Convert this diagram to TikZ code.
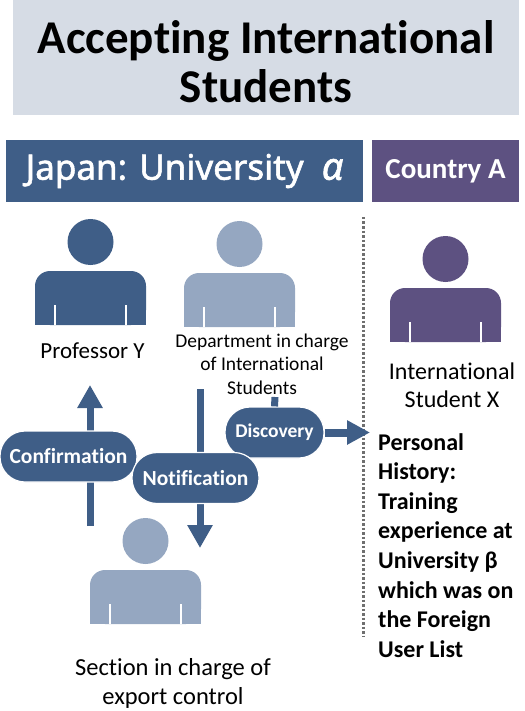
\documentclass[tikz,border=0pt]{standalone}
\usepackage{fontspec}
\setmainfont{Carlito}[Ligatures=NoCommon]
\newfontfamily\hdfont{Noto Sans}[FakeBold=1.6]
\definecolor{jblue}{HTML}{3F5E87}
\definecolor{lblue}{HTML}{95A7C1}
\definecolor{cpurple}{HTML}{5D5181}
\definecolor{tbg}{HTML}{D6DCE5}
\definecolor{dotgray}{HTML}{6F6F6F}
\usetikzlibrary{arrows.meta}
\usetikzlibrary{positioning}

\tikzset{
	person/.pic={
		\path[pic actions] (0,29) circle (23);
		\path[pic actions, rounded corners=15] (-55.5,-54) rectangle (55.5,0);
		\path[pic actions] (-55.5,-54) rectangle (55.5,-20);
		\foreach \s in {-1,1}
		\draw[white, line width=2.2] ({\s*35.5},-54) -- ({\s*35.5},-34);
	},
	pill/.style={fill=jblue, draw=white, line width=1.2, rounded corners=25,
		text=white, font=\bfseries\fontsize{21.5}{24}\selectfont,
		minimum height=51, inner sep=0},
	lbl/.style={align=center, inner sep=0},
	blk/.style={draw=jblue, line width=7}
}

\begin{document}
\begin{tikzpicture}[x=1pt, y=1pt]
		\useasboundingbox (0,0) rectangle (524,-711);
		% title and headers
		\fill[tbg] (13,0) rectangle (519,-115);
		\node[lbl, anchor=north, font=\bfseries\fontsize{47}{49}\selectfont] (title) at (266,-20)
		{Accepting International\\Students};
		\node[fill=jblue, minimum width=357, minimum height=62, inner sep=0, text=white,
		font=\hdfont\fontsize{35}{40}\selectfont] (japan) at (184.5,-171)
		{Japan: University\ \ {\itshape\fontsize{38}{40}\selectfont α}};
		\node[fill=cpurple, minimum width=147, minimum height=62, inner sep=0, text=white,
		font=\bfseries\fontsize{29}{32}\selectfont] (country) at (445.5,-171) {Country A};
		\draw[dotgray, line width=3, dash pattern=on 2.5pt off 2pt] (363,-217) -- (363,-637);
		% people
		\pic[fill=jblue] (prof) at (90.5,-271) {person};
		\pic[fill=lblue] (dept) at (239.5,-273) {person};
		\pic[fill=cpurple] (stud) at (445.5,-288) {person};
		\pic[fill=lblue] (sect) at (145.5,-570) {person};
		\node[inner sep=0, anchor=base, font=\fontsize{23}{27}\selectfont] (profl) at (92.5,-358.5) {Professor Y};
		\node[lbl, anchor=north, font=\fontsize{19.5}{23.5}\selectfont] (deptl) at (262,-333.4)
		{Department in charge\\of International\\Students};
		\node[lbl, anchor=north, font=\fontsize{24}{28}\selectfont] (studl) at (452,-363)
		{International\\Student X};
		\node[lbl, anchor=north, font=\fontsize{24.5}{29}\selectfont] (sectl) at (173,-658)
		{Section in charge of\\export control};
		\node[align=left, inner sep=0, anchor=north west, font=\bfseries\fontsize{24}{29.6}\selectfont] (hist) at (378,-433)
		{Personal\\History:\\Training\\experience at\\University β\\which was on\\the Foreign\\User List};
		% arrows
		\coordinate (upS) at (90,-526);
		\coordinate (upE) at (90,-385);
		\coordinate (dnS) at (200,-389);
		\coordinate (dnE) at (200,-548);
		\coordinate (stubS) at (275,-397);
		\coordinate (rtE) at (370,-432.5);
		\draw[blk, -{Triangle[width=24pt,length=23pt]}] (upS) -- (upE);
		\draw[blk, -{Triangle[width=24pt,length=23pt]}] (dnS) -- (dnE);
		% steps
		\node[pill, minimum width=137] (conf) at (68.5,-456.5) {Confirmation};
		\node[pill, minimum width=99, font=\bfseries\fontsize{19.5}{22}\selectfont] (disc) at (274.5,-432.5) {Discovery};
		\node[pill, minimum width=127] (noti) at (195.5,-478) {Notification};
		\draw[blk] (stubS) -- (disc.north);
		\draw[blk, line width=8, -{Triangle[width=23pt,length=23pt]}] (disc.east) -- (rtE);
		\end{tikzpicture}
\end{document}
